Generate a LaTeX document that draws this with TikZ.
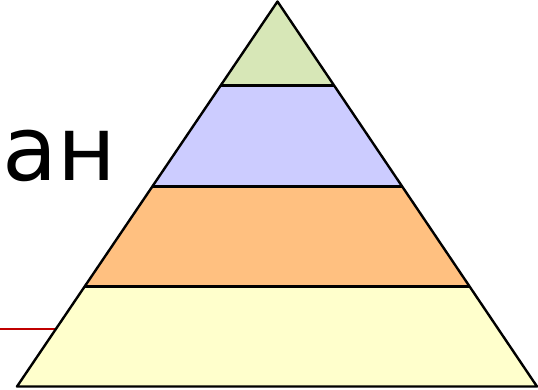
\documentclass[tikz,border=0pt]{standalone}
\usepackage{fontspec}
\usetikzlibrary{calc}
\newfontfamily\dvs{DejaVu Sans}
\definecolor{lgreen}{HTML}{D7E7B7}
\definecolor{lblue}{HTML}{CCCCFF}
\definecolor{lorange}{HTML}{FFC080}
\definecolor{lyellow}{HTML}{FFFFCC}
\definecolor{redline}{HTML}{C00000}
\begin{document}
\begin{tikzpicture}[x=1pt,y=-1pt,
  layer/.style={draw=black,line width=2.4pt,line join=round}]
\useasboundingbox (0,0) rectangle (538,390);
% text
\node[font=\dvs\fontsize{90}{90}\selectfont,anchor=base west,inner sep=0pt] (txt) at (2,181) {ан};
% red line
\coordinate (r0) at (0,329);
\coordinate (r1) at (60,329);
\draw[redline,line width=2.2pt] (r0) -- (r1);
% pyramid corners
\coordinate (A) at (277.5,1.5);
\coordinate (BL) at (17,386.5);
\coordinate (BR) at (537,386.5);
\coordinate (L1) at ($(A)!84/385!(BL)$);
\coordinate (R1) at ($(A)!84/385!(BR)$);
\coordinate (L2) at ($(A)!185/385!(BL)$);
\coordinate (R2) at ($(A)!185/385!(BR)$);
\coordinate (L3) at ($(A)!285/385!(BL)$);
\coordinate (R3) at ($(A)!285/385!(BR)$);
\fill[lyellow] (L3) -- (R3) -- (BR) -- (BL) -- cycle;
\fill[lorange] (L2) -- (R2) -- (R3) -- (L3) -- cycle;
\fill[lblue] (L1) -- (R1) -- (R2) -- (L2) -- cycle;
\fill[lgreen] (A) -- (R1) -- (L1) -- cycle;
\draw[layer] (L1) -- (R1);
\draw[layer] (L2) -- (R2);
\draw[layer] (L3) -- (R3);
\draw[layer] (A) -- (BR) -- (BL) -- cycle;
\end{tikzpicture}
\end{document}
